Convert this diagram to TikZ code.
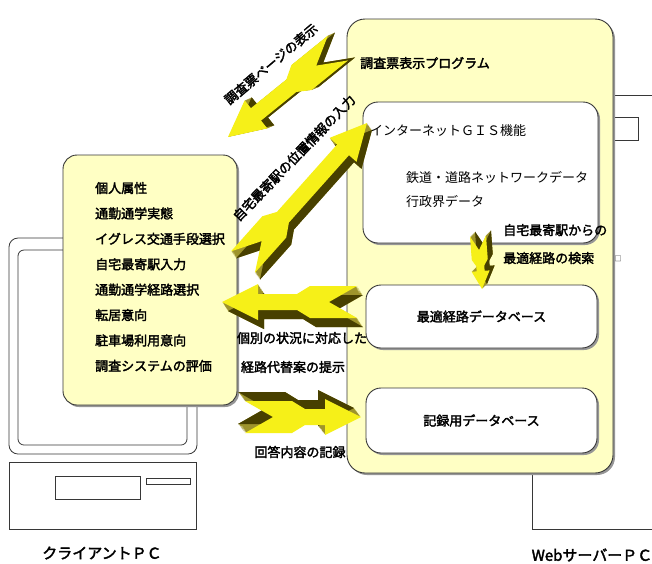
\documentclass[tikz,border=0pt]{standalone}
\usepackage{fontspec}
\setmainfont{Noto Sans CJK JP}[AutoFakeBold=2.4]
\usetikzlibrary{calc,shadows}

\definecolor{boxyellow}{RGB}{255,255,196}
\definecolor{arrowyellow}{RGB}{246,240,24}
\definecolor{arrowdark}{RGB}{72,64,0}
\definecolor{arrowolive}{RGB}{158,148,44}
\definecolor{edgegray}{RGB}{55,55,55}
\definecolor{shadegray}{RGB}{150,150,150}

% extruded chevron arrow, drawn along the local x axis
\newdimen\zzdx
\newdimen\zzdy
\newcommand\zzshape{(\zzL,0) -- (\zzL-36,18) -- (\zzL-36,8) -- (60,8) -- (47,16) -- (0,16) -- (28,0)
  -- (0,-16) -- (47,-16) -- (60,-8) -- (\zzL-36,-8) -- (\zzL-36,-18) -- cycle}
% #1 tail, #2 tip, #3 scale, #4/#5 depth offset on the page
\newcommand\zzarrow[5]{%
  \pgfextractx{\zzdx}{\pgfpointdiff{\pgfpointanchor{#1}{center}}{\pgfpointanchor{#2}{center}}}%
  \pgfextracty{\zzdy}{\pgfpointdiff{\pgfpointanchor{#1}{center}}{\pgfpointanchor{#2}{center}}}%
  \pgfmathsetmacro\zzA{atan2(\zzdy,\zzdx)}%
  \pgfmathsetmacro\zzL{veclen(\zzdx,\zzdy)/#3}%
  \foreach \k in {1,...,10}{%
    \begin{scope}[shift={($(#1)+(\k*#4/10,\k*#5/10)$)},rotate=\zzA,scale=#3]
      \fill[arrowolive] \zzshape;
    \end{scope}}%
  \begin{scope}[shift={($(#1)+(#4,#5)$)},rotate=\zzA,scale=#3]
    \fill[arrowdark] \zzshape;
  \end{scope}
  \begin{scope}[shift={(#1)},rotate=\zzA,scale=#3]
    \fill[arrowyellow] \zzshape;
  \end{scope}}

\tikzset{
  jp/.style={font=\fontsize{13}{15}\selectfont\bfseries, inner sep=0pt},
  jpthin/.style={font=\fontsize{13}{15}\selectfont, inner sep=0pt},
  pclabel/.style={font=\fontsize{15}{17}\selectfont\bfseries, inner sep=0pt},
  hwline/.style={draw=edgegray, line width=0.8pt},
  panel/.style={draw=edgegray, line width=0.9pt,
    drop shadow={shadow xshift=2pt, shadow yshift=-2pt, fill=shadegray, opacity=1}},
  yellowpanel/.style={panel, fill=boxyellow},
  whitepanel/.style={panel, fill=white, rounded corners=15pt},
}

\begin{document}
\begin{tikzpicture}[x=1pt,y=-1pt]
\useasboundingbox (0,0) rectangle (652,563);
\clip (0,0) rectangle (652,563);
\fill[white] (0,0) rectangle (652,563);

% client PC: monitor and base unit
\draw[hwline, rounded corners=9pt] (9,238) rectangle (197,454);
\draw[hwline, rounded corners=6pt] (18,250) rectangle (187,445);
\draw[hwline] (9,462) rectangle (196,529);
\draw[hwline] (55,476) rectangle (140,499);
\draw[hwline] (146,478) rectangle (190,484);

% web server PC
\draw[hwline] (532,95) rectangle (720,529);
\draw[hwline] (590,117) rectangle (638,140);

% client side form
\node[yellowpanel, rounded corners=14pt, minimum width=174pt, minimum height=250pt] (client) at (150,280) {};
\foreach [count=\i from 0] \t in {個人属性,通勤通学実態,イグレス交通手段選択,自宅最寄駅入力,通勤通学経路選択,転居意向,駐車場利用意向,調査システムの評価}
  \node[jp, anchor=base west] (item\i) at (95,{193+25.4*\i}) {\t};

% label partly hidden by the program box
\node[jp] (reclabel) at (300,452) {回答内容の記録};

% server side program
\node[yellowpanel, rounded corners=18pt, minimum width=266pt, minimum height=454pt] (prog) at (480,246) {};
\node[jp, anchor=base west] (progtitle) at (360,68) {調査票表示プログラム};

\node[whitepanel, minimum width=235pt, minimum height=141pt] (gis) at (480.5,172.5) {};
\node[jpthin, anchor=base west] (gistitle) at (370,135) {インターネットＧＩＳ機能};
\node[jpthin, anchor=base west] (gisnet) at (406,182) {鉄道・道路ネットワークデータ};
\node[jpthin, anchor=base west] (gisadm) at (406,206) {行政界データ};

\node[whitepanel, minimum width=231pt, minimum height=63pt, jp] (routedb) at (481.5,316.5) {最適経路データベース};
\node[whitepanel, minimum width=231pt, minimum height=65pt, jp] (recdb) at (481.5,420.5) {記録用データベース};

% arrow end points
\coordinate (showtail) at (338,48);
\coordinate (showtip) at (228,137);
\coordinate (posttail) at (243,262);
\coordinate (posttip) at (367,123);
\coordinate (alttail) at (357,302);
\coordinate (alttip) at (222,302);
\coordinate (rectail) at (245,417);
\coordinate (rectip) at (361,417);
\coordinate (searchtail) at (478,236);
\coordinate (searchtip) at (482,289);

\zzarrow{showtail}{showtip}{1}{7}{-3}
\zzarrow{posttail}{posttip}{1}{5}{7}
\zzarrow{alttail}{alttip}{1}{6}{9}
\zzarrow{rectail}{rectip}{1}{-7}{-9}
\zzarrow{searchtail}{searchtip}{0.5}{5}{-5}

% arrow captions
\node[jp, rotate=40] (showlabel) at (271,64) {調査票ページの表示};
\node[jp, rotate=46] (postlabel) at (294,158) {自宅最寄駅の位置情報の入力};
\node[jp] (altlabel1) at (302,338) {個別の状況に対応した};
\node[jp] (altlabel2) at (293,367) {経路代替案の提示};
\node[jp, anchor=base west] (searchlabel1) at (503,235) {自宅最寄駅からの};
\node[jp, anchor=base west] (searchlabel2) at (503,263) {最適経路の検索};
\node[jpthin] (searchmark) at (618,259) {\fontsize{7}{8}\selectfont □};

% machine captions
\node[pclabel] (clientpc) at (102,553) {クライアントＰＣ};
\node[pclabel] (serverpc) at (592,555) {WebサーバーＰＣ};
\end{tikzpicture}
\end{document}
